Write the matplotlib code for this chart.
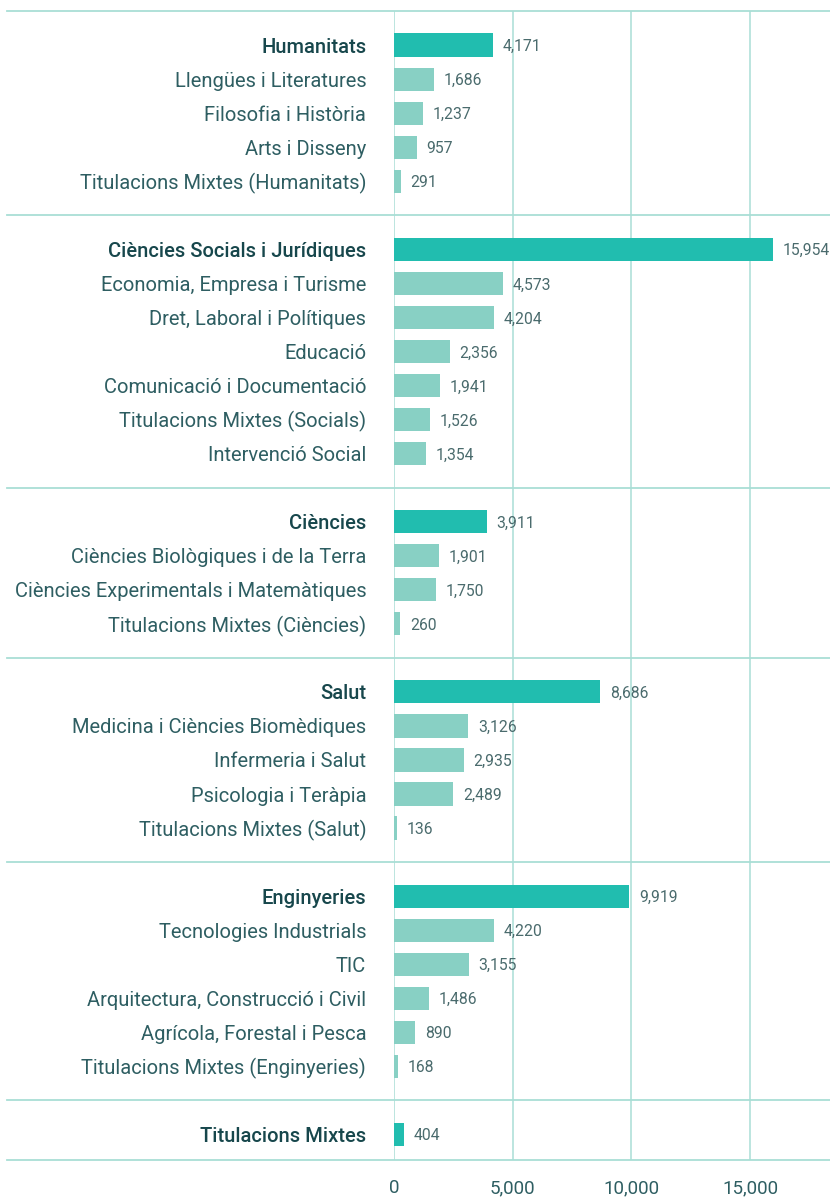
import matplotlib
matplotlib.use('Agg')
import matplotlib.pyplot as plt
from matplotlib.transforms import blended_transform_factory

# ---- data ----
groups = ['Humanitats', 'Ciències Socials i Jurídiques', 'Ciències', 'Salut',
          'Enginyeries', 'Titulacions Mixtes']
group_values = [4171, 15954, 3911, 8686, 9919, 404]

humanitats_labels = ['Llengües i Literatures', 'Filosofia i Història', 'Arts i Disseny',
                     'Titulacions Mixtes (Humanitats)']
humanitats_values = [1686, 1237, 957, 291]

socials_labels = ['Economia, Empresa i Turisme', 'Dret, Laboral i Polítiques', 'Educació',
                  'Comunicació i Documentació', 'Titulacions Mixtes (Socials)',
                  'Intervenció Social']
socials_values = [4573, 4204, 2356, 1941, 1526, 1354]

ciencies_labels = ['Ciències Biològiques i de la Terra',
                   'Ciències Experimentals i Matemàtiques',
                   'Titulacions Mixtes (Ciències)']
ciencies_values = [1901, 1750, 260]

salut_labels = ['Medicina i Ciències Biomèdiques', 'Infermeria i Salut',
                'Psicologia i Teràpia', 'Titulacions Mixtes (Salut)']
salut_values = [3126, 2935, 2489, 136]

enginyeries_labels = ['Tecnologies Industrials', 'TIC', 'Arquitectura, Construcció i Civil',
                      'Agrícola, Forestal i Pesca', 'Titulacions Mixtes (Enginyeries)']
enginyeries_values = [4220, 3155, 1486, 890, 168]

mixtes_labels = []
mixtes_values = []

sub_labels = [humanitats_labels, socials_labels, ciencies_labels, salut_labels,
              enginyeries_labels, mixtes_labels]
sub_values = [humanitats_values, socials_values, ciencies_values, salut_values,
              enginyeries_values, mixtes_values]

xticks = [0, 5000, 10000, 15000]

# ---- style ----
MAIN = '#21BDAF'
SUB = '#88D0C4'
GRID = '#A9DED6'
CAT_TXT = '#17474C'
SUB_TXT = '#2E5E62'
VAL_TXT = '#4A6B6D'
FONT = 'Roboto'

plt.rcParams['font.family'] = [FONT, 'DejaVu Sans']

fig = plt.figure(figsize=(8.30, 11.99), dpi=100)
ax = fig.add_axes([394 / 830, 1 - 1160 / 1199, 1 - 394 / 830, (1160 - 11) / 1199])

# layout: slot 0 is top line, groups separated by one empty slot
rows = []  # (y, label, value, is_main)
separators = []
slot = 0
for gi, g in enumerate(groups):
    slot += 1
    rows.append((slot, g, group_values[gi], True))
    for lab, val in zip(sub_labels[gi], sub_values[gi]):
        slot += 1
        rows.append((slot, lab, val, False))
    if gi < len(groups) - 1:
        slot += 1
        separators.append(slot)
bottom = slot + 0.75

ys = [r[0] for r in rows]
vals = [r[2] for r in rows]
cols = [MAIN if r[3] else SUB for r in rows]
ax.barh(ys, vals, height=0.68, color=cols, zorder=3)

for y, lab, v, main in rows:
    ax.annotate(f'{v:,}', xy=(v, y), xytext=(7, 0), textcoords='offset points',
                ha='left', va='center_baseline', fontsize=11.3, color=VAL_TXT,
                fontweight='normal', zorder=4)

ax.set_ylim(bottom, 0)
ax.set_xlim(0, 18370)

ax.set_yticks(ys)
ax.set_yticklabels([r[1] for r in rows])
for tl, r in zip(ax.get_yticklabels(), rows):
    if r[3]:
        tl.set_fontweight('medium')
        tl.set_color(CAT_TXT)
    else:
        tl.set_fontweight('normal')
        tl.set_color(SUB_TXT)
    tl.set_fontsize(14.5)
    tl.set_verticalalignment('center_baseline')
ax.tick_params(axis='y', length=0, pad=20)

ax.set_xticks(xticks)
ax.set_xticklabels([f'{t:,}' for t in xticks], fontsize=13.5, color=SUB_TXT,
                   fontweight='normal')
ax.tick_params(axis='x', length=0, pad=14)

ax.grid(axis='x', color=GRID, linewidth=1.1, zorder=0)
ax.grid(axis='y', visible=False)
for s in ax.spines.values():
    s.set_visible(False)

tr = blended_transform_factory(fig.transFigure, ax.transData)
for y in [0] + separators + [bottom]:
    ax.plot([7 / 830, 1.0], [y, y], transform=tr, color=GRID, linewidth=1.3,
            clip_on=False, zorder=1)

fig.savefig('out.png', dpi=100)
